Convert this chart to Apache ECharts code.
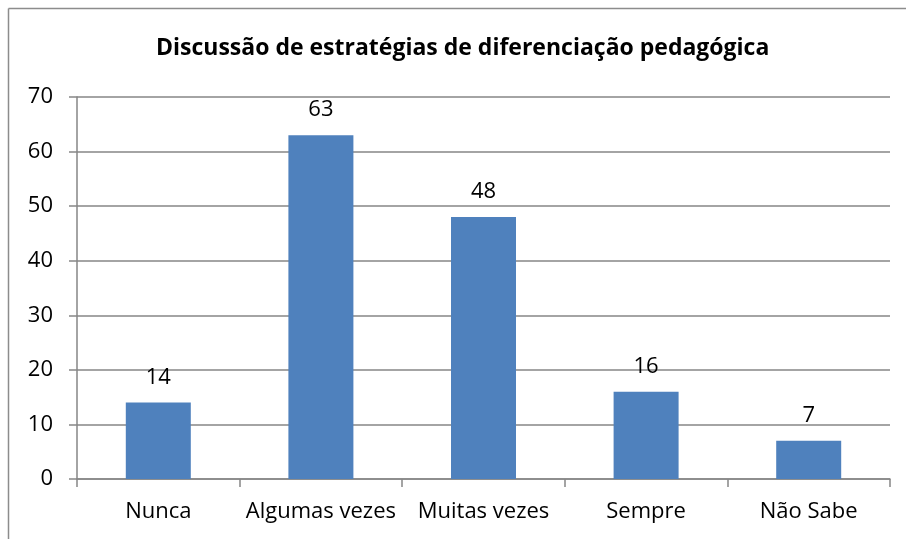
<!DOCTYPE html>
<html>
<head>
<meta charset="utf-8">
<script src="https://cdn.jsdelivr.net/npm/echarts@6/dist/echarts.min.js"></script>
<style>
  html,body{ margin:0; padding:0; background:#fff; }
  #chart{ width:906px; height:539px; }
</style>
</head>
<body>
<div id="chart"></div>
<script>
  // dados
  var titulo = "Discussão de estratégias de diferenciação pedagógica";
  var categorias = ["Nunca", "Algumas vezes", "Muitas vezes", "Sempre", "Não Sabe"];
  var valores = [14, 63, 48, 16, 7];

  var FONT = "'Open Sans', 'Liberation Sans', sans-serif";
  var chart = echarts.init(document.getElementById("chart"), null, { renderer: "canvas" });

  // moldura do gráfico: só esquerda e topo ficam visíveis (o resto sai da imagem)
  var moldura = { stroke: "#8c8c8c", lineWidth: 1.5 };

  chart.setOption({
    backgroundColor: "#fff",
    animation: false,
    title: {
      text: titulo, left: 151, top: 32,
      textStyle: { fontFamily: FONT, fontSize: 23, fontWeight: "bold", color: "#000" }
    },
    graphic: [
      { type: "line", silent: true, shape: { x1: 8.5, y1: 8.5, x2: 906, y2: 8.5 }, style: moldura },
      { type: "line", silent: true, shape: { x1: 8.5, y1: 8.5, x2: 8.5, y2: 539 }, style: moldura }
    ],
    grid: { left: 77, right: 16, top: 97, bottom: 60, containLabel: false },
    xAxis: {
      type: "category", data: categorias,
      axisLine: { lineStyle: { color: "#868686", width: 1.5 } },
      axisTick: { show: true, length: 8, lineStyle: { color: "#868686", width: 1.5 } },
      axisLabel: { interval: 0, hideOverlap: false, margin: 22, fontFamily: FONT, fontSize: 22, color: "#000" }
    },
    yAxis: {
      type: "value", min: 0, max: 70, interval: 10,
      axisLine: { show: true, lineStyle: { color: "#868686", width: 1.5 } },
      axisTick: { show: true, length: 8, lineStyle: { color: "#868686", width: 1.5 } },
      axisLabel: { margin: 24, fontFamily: FONT, fontSize: 22, color: "#000" },
      splitLine: { lineStyle: { color: "#868686", width: 1.5 } }
    },
    series: [{
      type: "bar", data: valores, barWidth: 65,
      itemStyle: { color: "#4f81bd" },
      label: { show: true, position: "top", distance: 14, fontFamily: FONT, fontSize: 22, color: "#000" }
    }]
  });
</script>
</body>
</html>
